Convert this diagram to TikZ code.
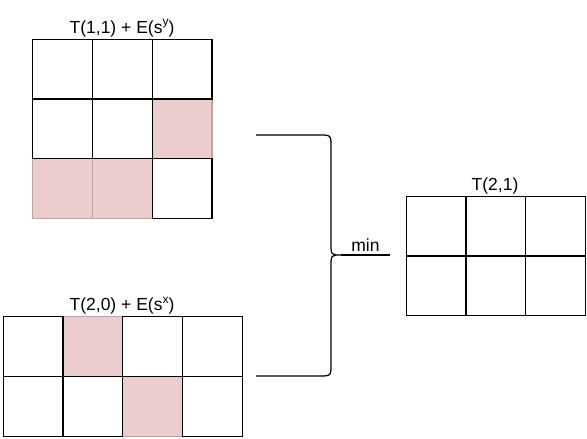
\documentclass[tikz,border=0pt]{standalone}
\usepackage{fontspec}
\setmainfont{Liberation Sans}
\definecolor{cellpink}{RGB}{234,205,204}
\newcommand{\supr}[1]{\raisebox{0.42em}{\fontsize{12}{12}\selectfont #1}}
\tikzset{
    cell/.style={draw=black, line width=1.25pt, fill=white, minimum size=59.8pt, inner sep=0pt, anchor=north west},
    hit/.style={cell, fill=cellpink, draw=cellpink!80!black},
    lbl/.style={font=\fontsize{17.5}{20}\selectfont, inner sep=1.5pt, anchor=south}
}
\begin{document}
\begin{tikzpicture}[x=1pt, y=-1pt]
    \useasboundingbox (0,0) rectangle (587,439);
    % top grid, T(1,1) + E(s^y)
    \foreach \r/\c in {1/2, 2/0, 2/1}
        \node[hit] (sy-\r-\c) at (32+59.8*\c, 38.5+59.8*\r) {};
    \foreach \r/\c in {0/0, 0/1, 0/2, 1/0, 1/1, 2/2}
        \node[cell] (sy-\r-\c) at (32+59.8*\c, 38.5+59.8*\r) {};
    \node[lbl] (sy-lbl) at (122,38.5) {T(1,1) + E(s\supr{y})};
    % bottom grid, T(2,0) + E(s^x)
    \foreach \r/\c in {0/1, 1/2}
        \node[hit] (sx-\r-\c) at (2.5+59.8*\c, 316+59.8*\r) {};
    \foreach \r/\c in {0/0, 0/2, 0/3, 1/0, 1/1, 1/3}
        \node[cell] (sx-\r-\c) at (2.5+59.8*\c, 316+59.8*\r) {};
    \node[lbl] (sx-lbl) at (122,316) {T(2,0) + E(s\supr{x})};
    % result grid
    \foreach \r in {0,1}
        \foreach \c in {0,1,2}
            \node[cell] (t-\r-\c) at (405.5+59.8*\c, 195.5+59.8*\r) {};
    \node[lbl] (t-lbl) at (495,195.5) {T(2,1)};
    % brace
    \coordinate (up) at (256,135); \coordinate (lo) at (256,376);
    \coordinate (tip) at (341,255); \coordinate (out) at (390,255);
    \draw[line width=1.25pt]
        (up) -- (319,135) .. controls (331,135) .. (331,147) -- (331,243)
        .. controls (331,255) .. (tip)
        .. controls (331,255) .. (331,267) -- (331,364)
        .. controls (331,376) .. (319,376) -- (lo);
    \draw[line width=1.25pt] (tip) -- (out) node[lbl, midway, inner sep=3pt] (min) {min};
\end{tikzpicture}
\end{document}
